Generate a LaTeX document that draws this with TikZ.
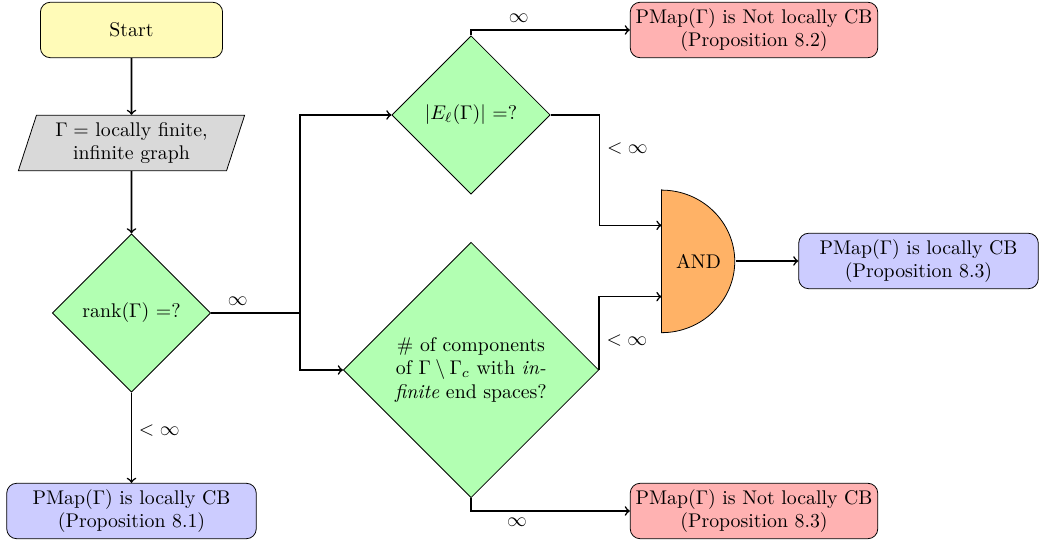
\documentclass[tikz,border=0pt]{standalone}
\usetikzlibrary{shapes.geometric,backgrounds}
\tikzset{
  startbox/.style={rectangle, rounded corners=5pt, draw, fill=yellow!28,
    minimum width=92pt, minimum height=28pt},
  inputbox/.style={trapezium, trapezium left angle=72, trapezium right angle=108,
    trapezium stretches=true, draw, fill=gray!30, minimum width=115pt,
    minimum height=28pt, align=center, inner sep=1pt},
  decision/.style={diamond, aspect=1, draw, fill=green!30, align=center, inner sep=1pt},
  cbbox/.style={rectangle, rounded corners=5pt, draw, fill=blue!20,
    minimum width=126pt, minimum height=28pt, align=center, inner sep=1pt},
  notcbbox/.style={rectangle, rounded corners=5pt, draw, fill=red!30,
    minimum width=125pt, minimum height=28pt, align=center, inner sep=1pt},
  line/.style={->, thick}
}
\begin{document}
\begin{tikzpicture}[x=0.505pt, y=0.505pt]
    \useasboundingbox (0,0) rectangle (1040,543);

    % Inicio y grafo
    \node[startbox] (start) at (131.5,513) {Start};
    \node[inputbox] (graph) at (131.5,400) {$\Gamma =$ locally finite,\\ infinite graph};
    \node[decision, minimum width=80pt, minimum height=80pt] (rank) at (131.5,230) {rank($\Gamma$) =?};
    \node[cbbox] (cbone) at (131.5,32) {PMap($\Gamma$) is locally CB\\ (Proposition 8.1)};

    % Preguntas
    \node[decision, minimum width=80pt, minimum height=80pt] (ends) at (471,428) {$|E_\ell(\Gamma)|$ =?};
    \node[decision, minimum width=129pt, minimum height=129pt] (comps) at (471,173)
        {\# of components\\ of $\Gamma\setminus\Gamma_c$ with \emph{in-}\\ \emph{finite} end spaces?};

    % Resultados
    \node[notcbbox] (notcbtop) at (754,513) {PMap($\Gamma$) is Not locally CB\\ (Proposition 8.2)};
    \node[notcbbox] (notcbbot) at (754,32) {PMap($\Gamma$) is Not locally CB\\ (Proposition 8.3)};
    \node[cbbox, minimum width=121pt] (cbtwo) at (918.5,282) {PMap($\Gamma$) is locally CB\\ (Proposition 8.3)};

    % Puerta AND
    \node[minimum width=37pt, minimum height=72pt, inner sep=0pt] (andgate) at (698.5,282) {AND};
    \begin{scope}[on background layer]
        \filldraw[fill=orange!60] (andgate.north west) -- (andgate.south west)
            arc[start angle=-90, end angle=90, x radius=37pt, y radius=36pt] -- cycle;
    \end{scope}

    % Flechas
    \draw[line] (start) -- (graph);
    \draw[line] (graph) -- (rank);
    \draw[line] (rank) -- node[pos=0.42, right] {$<\infty$} (cbone);
    \coordinate (split) at (300,230);
    \draw[thick] (rank.east) -- node[pos=0.3, above] {$\infty$} (split);
    \draw[line] (split) |- (ends.west);
    \draw[line] (split) |- (comps.west);
    \draw[line] (ends.north) |- node[pos=0.65, above] {$\infty$} (notcbtop.west);
    \draw[line] (ends.east) -- ++(49,0) |- node[pos=0.15, right] {$<\infty$} ([yshift=18pt]andgate.west);
    \draw[line] (comps.east) |- node[pos=0.2, right] {$<\infty$} ([yshift=-18pt]andgate.west);
    \draw[line] (comps.south) |- node[pos=0.645, below] {$\infty$} (notcbbot.west);
    \draw[line] (andgate.east) -- (cbtwo.west);
\end{tikzpicture}
\end{document}
